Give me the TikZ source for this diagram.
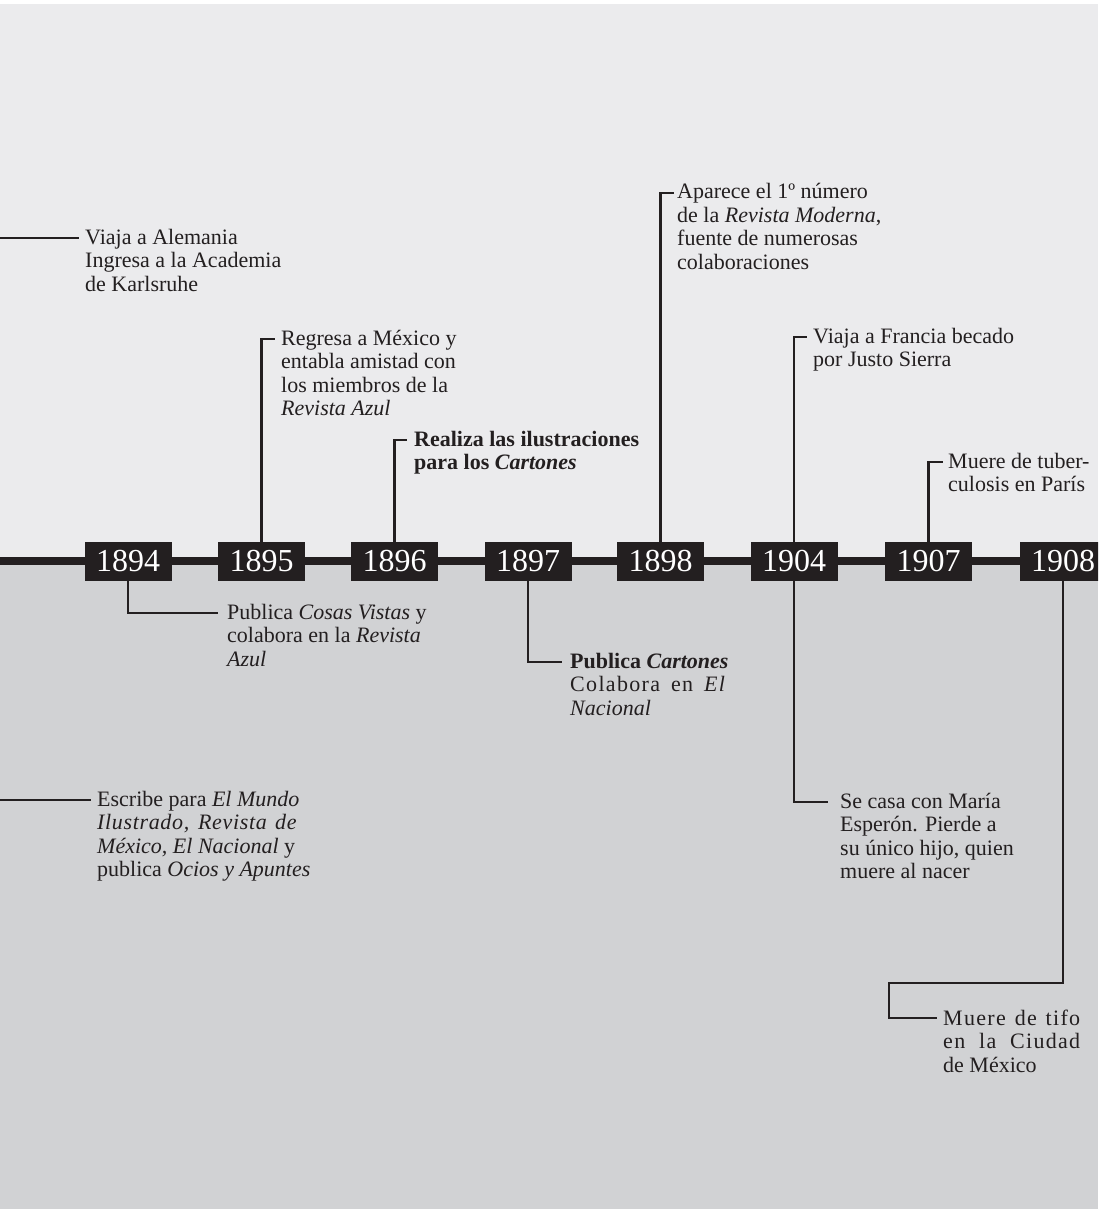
\documentclass[tikz,border=0pt]{standalone}
\usepackage{fontspec}
\setmainfont{Liberation Serif}
\definecolor{topbg}{RGB}{235,235,237}
\definecolor{botbg}{RGB}{209,210,212}
\definecolor{ink}{RGB}{35,31,32}
\newcommand\notelines[1]{\vtop{\let\\\cr\halign{##\hfil\cr#1\crcr}}}
\newcommand\spreadline[3]{\makebox[#1][s]{\addfontfeature{LetterSpace=#2}#3}}
\begin{document}
\begin{tikzpicture}[x=1pt,y=-1pt,
  conn/.style={draw=ink,line width=2.6pt,line join=miter},
  axis/.style={draw=ink,line width=8pt},
  yearbox/.style={fill=ink,text=white,minimum width=87pt,minimum height=39pt,inner sep=0pt,font=\fontsize{32}{32}\selectfont},
  note/.style={anchor=base west,inner sep=0pt,text=ink,font=\fontsize{22}{23.5}\selectfont}]
\useasboundingbox (0,0) rectangle (1098,1209);
\clip (0,0) rectangle (1098,1209);
\fill[white] (0,0) rectangle (1098,1209);
\fill[topbg] (0,4) rectangle (1098,561);
\fill[botbg] (0,561) rectangle (1098,1209);

% timeline
\coordinate (tl) at (0,561);
\coordinate (tr) at (1098,561);
\draw[axis] (tl) -- (tr);

% year boxes
\node[yearbox] (y1894) at (128,561.5) {1894};
\node[yearbox] (y1895) at (261.5,561.5) {1895};
\node[yearbox] (y1896) at (394.5,561.5) {1896};
\node[yearbox] (y1897) at (528,561.5) {1897};
\node[yearbox] (y1898) at (660.5,561.5) {1898};
\node[yearbox] (y1904) at (794,561.5) {1904};
\node[yearbox] (y1907) at (928.5,561.5) {1907};
\node[yearbox] (y1908) at (1063,561.5) {1908};

% notes above
\node[note] (t1) at (85,244) {\notelines{Viaja a Alemania\\Ingresa a la Academia\\de Karlsruhe}};
\node[note] (t2) at (281,345) {\notelines{Regresa a México y\\entabla amistad con\\los miembros de la\\\textit{Revista Azul}}};
\node[note,font=\fontsize{22}{23.5}\selectfont\bfseries] (t3) at (414,446) {\notelines{Realiza las ilustraciones\\para los \textit{Cartones}}};
\node[note] (t4) at (677,199) {\notelines{Aparece el 1º número\\de la \textit{Revista Moderna},\\fuente de numerosas\\colaboraciones}};
\node[note] (t5) at (813,343) {\notelines{Viaja a Francia becado\\por Justo Sierra}};
\node[note] (t6) at (948,468) {\notelines{Muere de tuber-\\culosis en París}};

% notes below
\node[note] (t7) at (227,619) {\notelines{Publica \textit{Cosas Vistas} y\\colabora en la \textit{Revista}\\\textit{Azul}}};
\node[note] (t8) at (570,668) {\notelines{\textbf{Publica \textit{Cartones}}\\\spreadline{156pt}{6}{Colabora en \textit{El}}\\\textit{Nacional}}};
\node[note] (t9) at (97,806) {\notelines{Escribe para \textit{El Mundo}\\\spreadline{200pt}{3}{\textit{Ilustrado, Revista de}}\\\textit{México, El Nacional} y\\publica \textit{Ocios y Apuntes}}};
\node[note] (t10) at (840,808) {\notelines{Se casa con María\\Esperón. Pierde a\\su único hijo, quien\\muere al nacer}};
\node[note] (t11) at (943,1025) {\notelines{\spreadline{137pt}{6}{Muere de tifo}\\\spreadline{137pt}{6}{en la Ciudad}\\de México}};

% connectors
\coordinate (l1) at (0,238);
\coordinate (l9) at (0,800);
\coordinate (bend) at (889,983);
\draw[conn] (l1) -- ([xshift=-6pt,yshift=6pt]t1.base west);
\draw[conn] (y1895.north) |- ([xshift=-6pt,yshift=6pt]t2.base west);
\draw[conn] (y1896.north) |- ([xshift=-7pt,yshift=6pt]t3.base west);
\draw[conn] (y1898.north) |- ([xshift=-3pt,yshift=6pt]t4.base west);
\draw[conn] (y1904.north) |- ([xshift=-6pt,yshift=6pt]t5.base west);
\draw[conn] (y1907.north) |- ([xshift=-5pt,yshift=6pt]t6.base west);
\draw[conn] (y1894.south) |- ([xshift=-9pt,yshift=6pt]t7.base west);
\draw[conn] (y1897.south) |- ([xshift=-8pt,yshift=6pt]t8.base west);
\draw[conn] (l9) -- ([xshift=-6pt,yshift=6pt]t9.base west);
\draw[conn] (y1904.south) |- ([xshift=-12pt,yshift=6pt]t10.base west);
\draw[conn] (y1908.south) |- (bend) |- ([xshift=-6pt,yshift=7pt]t11.base west);
\end{tikzpicture}
\end{document}
